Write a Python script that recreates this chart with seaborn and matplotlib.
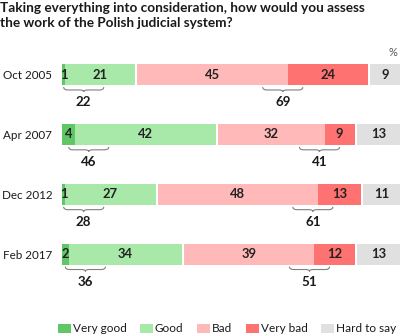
import matplotlib
matplotlib.use("Agg")
import matplotlib.pyplot as plt
from matplotlib.patches import Patch
from matplotlib.path import Path
from matplotlib.patches import PathPatch
import seaborn as sns
import pandas as pd
import numpy as np

# Survey waves and answer shares (%)
waves = ["Oct 2005", "Apr 2007", "Dec 2012", "Feb 2017"]
very_good = [1, 4, 1, 2]
good = [21, 42, 27, 34]
bad = [45, 32, 48, 39]
very_bad = [24, 9, 13, 12]
hard_to_say = [9, 13, 11, 13]
good_total = [22, 46, 28, 36]
bad_total = [69, 41, 61, 51]

categories = ["Very good", "Good", "Bad", "Very bad", "Hard to say"]
colors = ["#5fc766", "#a8e8a8", "#ffb9b9", "#ff7272", "#e0e0e0"]

sns.set_theme(style="white")
plt.rcParams["font.family"] = ["Lato", "DejaVu Sans"]

fig = plt.figure(figsize=(4.0, 3.36), dpi=100)
ax = fig.add_axes([62 / 400, 1 - 284 / 336, 338 / 400, (284 - 44.6) / 336])

gap = 0.6
series = [very_good, good, bad, very_bad, hard_to_say]
group_gap = [0, 0, gap, 0, gap]

df = pd.DataFrame({"wave": waves})
left = np.zeros(len(waves))
bar_w = 0.35
for vals, col, g in zip(series, colors, group_gap):
    left = left + g
    df["v"] = vals
    sns.barplot(data=df, y="wave", x="v", orient="h", color=col,
                width=bar_w, left=left, ax=ax, saturation=1, linewidth=0)
    for i, v in enumerate(vals):
        ax.text(left[i] + v / 2, i, str(v), ha="center", va="center",
                fontsize=9.4, fontweight="bold", color="#222222")
    left = left + np.array(vals)


def brace(ax, xc, y, half, depth):
    x0, x1 = xc - half, xc + half
    r = min(1.2, half / 4)
    d = depth
    verts = [
        (x0, y), (x0, y + d * 0.6), (x0 + r, y + d * 0.6),
        (xc - r, y + d * 0.6), (xc, y + d * 0.6), (xc, y + d),
        (xc, y + d * 0.6), (xc + r, y + d * 0.6),
        (x1 - r, y + d * 0.6), (x1, y + d * 0.6), (x1, y),
    ]
    codes = [Path.MOVETO, Path.CURVE3, Path.CURVE3,
             Path.LINETO, Path.CURVE3, Path.CURVE3,
             Path.CURVE3, Path.CURVE3,
             Path.LINETO, Path.CURVE3, Path.CURVE3]
    ax.add_patch(PathPatch(Path(verts, codes), fill=False, edgecolor="#808080",
                           linewidth=0.8))


half = 6.0
for i in range(len(waves)):
    yb = i + 0.21
    # brace under the positive answers
    xc_good = very_good[i] / 2 + half
    brace(ax, xc_good, yb, half, 0.08)
    ax.text(xc_good, i + 0.46, str(good_total[i]), ha="center", va="center",
            fontsize=9.6, fontweight="bold", color="#1a1a1a")
    # brace under the negative answers
    xc_bad = very_good[i] + good[i] + gap + bad[i] - 1.5
    brace(ax, xc_bad, yb, half, 0.08)
    ax.text(xc_bad, i + 0.46, str(bad_total[i]), ha="center", va="center",
            fontsize=9.6, fontweight="bold", color="#1a1a1a")

ax.set_xlim(0, 100 + 2 * gap)
ax.set_ylim(3.5, -0.5)
ax.set_xlabel("")
ax.set_ylabel("")
ax.set_xticks([])
ax.tick_params(axis="y", length=0, pad=7, labelsize=8.4, labelcolor="#1a1a1a")
sns.despine(ax=ax, left=True, bottom=True)

fig.text(0.0, 1 - 2 / 336,
         "Taking everything into consideration, how would you assess\nthe work of the Polish judicial system?",
         ha="left", va="top", fontsize=9.8, fontweight="bold", color="#1a1a1a",
         linespacing=1.3)
fig.text(1 - 3 / 400, 1 - 53 / 336, "%", ha="right", va="center",
         fontsize=8, color="#555555")

handles = [Patch(facecolor=c, edgecolor="none", label=l) for c, l in zip(colors, categories)]
fig.legend(handles=handles, loc="center left", bbox_to_anchor=(58 / 400, 1 - 329 / 336),
           ncol=5, frameon=False, fontsize=8.5, handlelength=1.1, handleheight=0.7,
           handletextpad=0.15, columnspacing=1.15, borderpad=0, borderaxespad=0,
           labelcolor="#1a1a1a")

fig.savefig("out.png", dpi=100)
